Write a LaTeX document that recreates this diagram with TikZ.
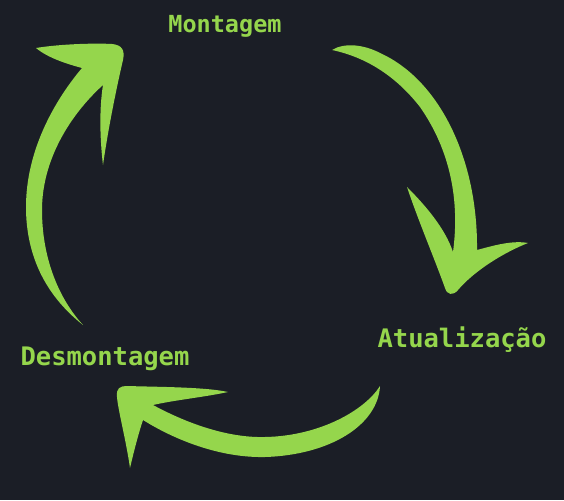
\documentclass[tikz,border=0pt]{standalone}
\usepackage{fontspec}
\newfontfamily\labelfont{DejaVu Sans Mono}
\definecolor{bgc}{HTML}{1B1E26}
\definecolor{lime}{HTML}{95D64C}
\tikzset{
  lbl/.style={text=lime, font=\labelfont\bfseries, anchor=base, inner sep=0pt},
  arrowshape/.style={fill=lime, draw=none}
}
\begin{document}
\begin{tikzpicture}[x=1pt,y=-1pt]
\fill[bgc] (0,0) rectangle (564,500);
\useasboundingbox (0,0) rectangle (564,500);

% labels
\node[lbl, font=\labelfont\bfseries\fontsize{23.5}{28}\selectfont] (mont) at (225,33) {Montagem};
\node[lbl, font=\labelfont\bfseries\fontsize{25.5}{30}\selectfont] (atua) at (462,347) {Atualização};
\node[lbl, font=\labelfont\bfseries\fontsize{25.5}{30}\selectfont] (desm) at (105,365) {Desmontagem};

% arrow 1: Desmontagem -> Montagem (left, upward)
\path[arrowshape] (36,48)
  .. controls (60,44) and (95,43) .. (112,44)
  .. controls (122,45) and (125,50) .. (123,60)
  .. controls (116,90) and (108,130) .. (103,165)
  .. controls (100,140) and (99,110) .. (103,85)
  .. controls (70,115) and (42,160) .. (42,210)
  .. controls (42,260) and (60,300) .. (83,325)
  .. controls (45,295) and (26,255) .. (26,207)
  .. controls (26,150) and (55,100) .. (82,68)
  .. controls (67,64) and (48,58) .. (36,48) -- cycle;

% arrow 2: Montagem -> Atualizacao (right, downward)
\path[arrowshape] (332,50)
  .. controls (345,42) and (365,45) .. (380,53)
  .. controls (440,80) and (478,160) .. (477,250)
  .. controls (492,246) and (512,240) .. (528,243)
  .. controls (505,252) and (475,270) .. (458,290)
  .. controls (453,296) and (447,295) .. (445,288)
  .. controls (435,260) and (418,220) .. (407,187)
  .. controls (425,205) and (445,228) .. (453,252)
  .. controls (460,200) and (450,150) .. (420,107)
  .. controls (395,75) and (365,57) .. (332,50) -- cycle;

% arrow 3: Atualizacao -> Desmontagem (bottom, leftward)
\path[arrowshape] (380,386)
  .. controls (378,425) and (330,455) .. (265,457)
  .. controls (220,458) and (175,440) .. (143,420)
  .. controls (138,435) and (133,455) .. (130,468)
  .. controls (126,440) and (118,410) .. (117,397)
  .. controls (116,388) and (120,386) .. (127,386)
  .. controls (160,387) and (205,387) .. (228,392)
  .. controls (205,397) and (175,400) .. (153,405)
  .. controls (190,425) and (230,438) .. (265,437)
  .. controls (320,436) and (365,410) .. (380,386) -- cycle;
\end{tikzpicture}
\end{document}
